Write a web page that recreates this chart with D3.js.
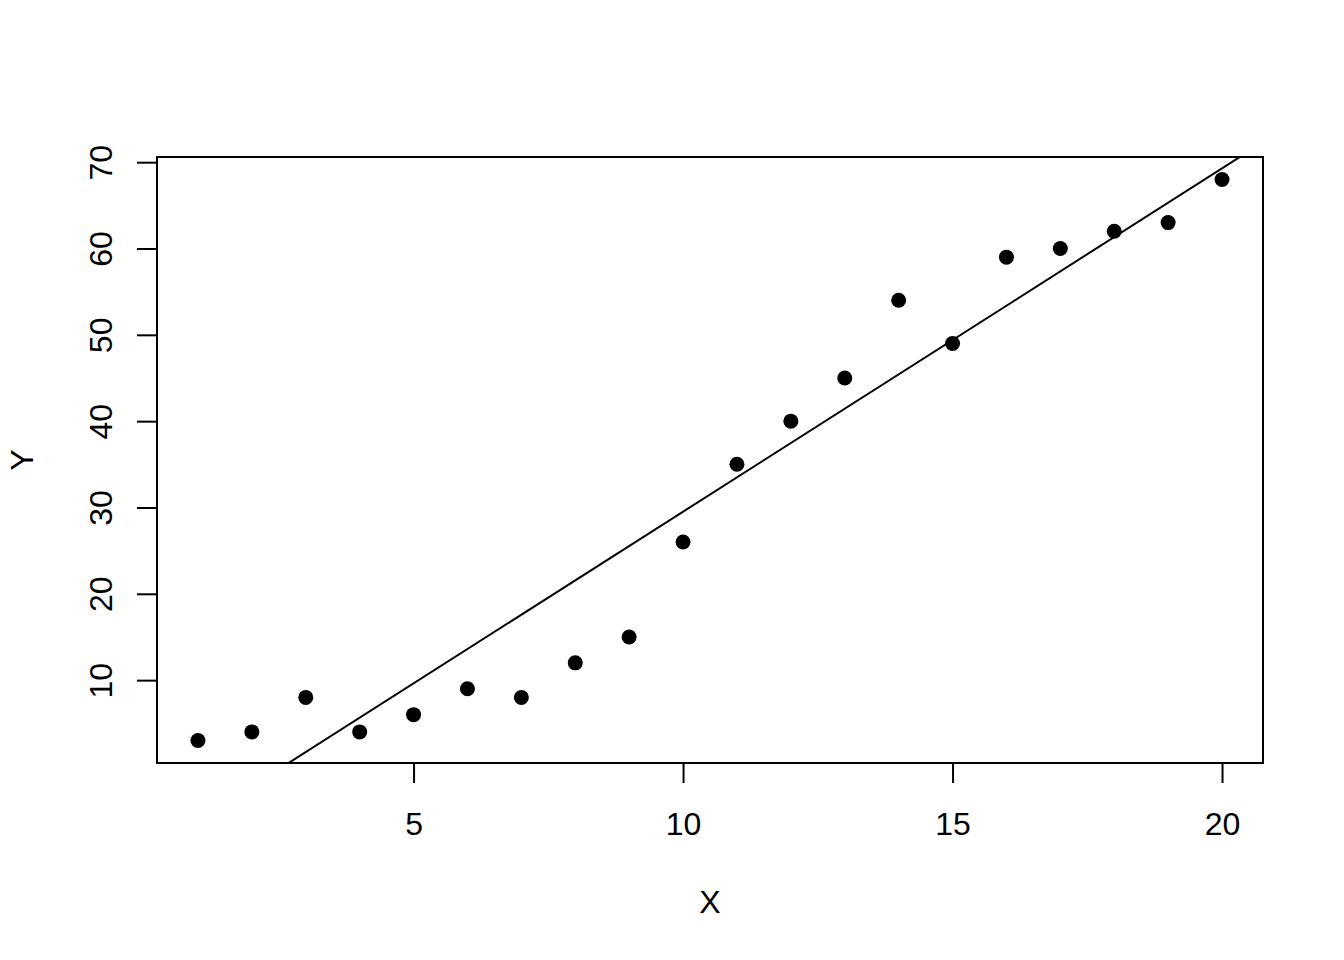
<!DOCTYPE html>
<html>
<head>
<meta charset="utf-8">
<script src="https://cdn.jsdelivr.net/npm/d3@7"></script>
<style>
  body { margin: 0; background: #fff; }
  text { font-family: "Liberation Sans", Arial, Helvetica, sans-serif; fill: #000; }
</style>
</head>
<body>
<div class="scatter"></div>
<script>
// data
var xs = [1,2,3,4,5,6,7,8,9,10,11,12,13,14,15,16,17,18,19,20]
var ys = [3,4,8,4,6,9,8,12,15,26,35,40,45,54,49,59,60,62,63,68]
var xTicks = [5,10,15,20]
var yTicks = [10,20,30,40,50,60,70]

var W = 1344, H = 960
var box = {left: 157, right: 1263, top: 157, bottom: 763}

// R style 4% padding on the data range
function padded(v){
   var ext = d3.extent(v), d = (ext[1]-ext[0])*0.04
   return [ext[0]-d, ext[1]+d]
}

var xScale = d3.scaleLinear().domain(padded(xs)).range([box.left, box.right])
var yScale = d3.scaleLinear().domain(padded(ys)).range([box.bottom, box.top])

// least squares fit, like abline(lm(Y ~ X))
var mx = d3.mean(xs), my = d3.mean(ys)
var sxy = d3.sum(xs, function(x,i){ return (x-mx)*(ys[i]-my) })
var sxx = d3.sum(xs, function(x){ return (x-mx)*(x-mx) })
var slope = sxy/sxx
var icept = my - slope*mx

var svg = d3.select('.scatter')
            .append('svg')
            .attr('width', W)
            .attr('height', H)

svg.append('defs').append('clipPath')
   .attr('id','plotclip')
   .append('rect')
   .attr('x', box.left).attr('y', box.top)
   .attr('width', box.right-box.left).attr('height', box.bottom-box.top)

// axes
var xAxis = d3.axisBottom(xScale).tickValues(xTicks).tickSize(20).tickPadding(0).tickSizeOuter(0)
var yAxis = d3.axisLeft(yScale).tickValues(yTicks).tickSize(20).tickSizeOuter(0)

var gx = svg.append('g')
   .attr('transform','translate(0,'+box.bottom+')')
   .call(xAxis)
gx.select('.domain').remove()
gx.selectAll('line').attr('stroke','#000').attr('stroke-width',2)
gx.selectAll('text')
   .attr('y', 72).attr('dy', null)
   .style('font-size','32px')

var gy = svg.append('g')
   .attr('transform','translate('+box.left+',0)')
   .call(yAxis)
gy.select('.domain').remove()
gy.selectAll('line').attr('stroke','#000').attr('stroke-width',2)
gy.selectAll('text')
   .attr('x', null).attr('dy', null)
   .attr('text-anchor','middle')
   .attr('transform','translate(-45,0) rotate(-90)')
   .style('font-size','32px')

// plot frame
svg.append('rect')
   .attr('x', box.left).attr('y', box.top)
   .attr('width', box.right-box.left).attr('height', box.bottom-box.top)
   .attr('fill','none').attr('stroke','#000').attr('stroke-width',2)

// fitted line
var xd = xScale.domain()
svg.append('line')
   .attr('clip-path','url(#plotclip)')
   .attr('x1', xScale(xd[0])).attr('y1', yScale(icept+slope*xd[0]))
   .attr('x2', xScale(xd[1])).attr('y2', yScale(icept+slope*xd[1]))
   .attr('stroke','#000').attr('stroke-width',2)

// points
svg.selectAll('.pt')
   .data(xs)
   .enter()
   .append('circle')
   .attr('class','pt')
   .attr('cx', function(d){ return xScale(d) })
   .attr('cy', function(d,i){ return yScale(ys[i]) })
   .attr('r', 7.5)
   .attr('fill','#000')

// axis titles
svg.append('text')
   .attr('x', (box.left+box.right)/2).attr('y', 913)
   .attr('text-anchor','middle')
   .style('font-size','32px')
   .text('X')

svg.append('text')
   .attr('transform','translate(33,'+((box.top+box.bottom)/2)+') rotate(-90)')
   .attr('text-anchor','middle')
   .style('font-size','32px')
   .text('Y')
</script>
</body>
</html>
